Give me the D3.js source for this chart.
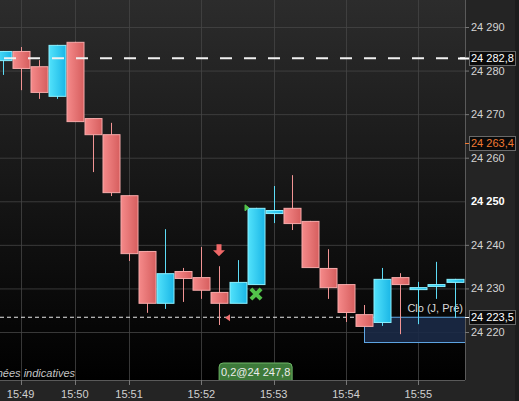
<!DOCTYPE html>
<html><head><meta charset="utf-8">
<script src="https://cdn.jsdelivr.net/npm/d3@7"></script>
<style>html,body{margin:0;padding:0;background:#222;overflow:hidden}svg{display:block}</style>
</head><body>
<script>
// ---- data ----
const opens  = [24282.4,24284.5,24281.0,24274.2,24286.6,24269.1,24265.4,24251.4,24238.6,24226.7,24234.0,24232.6,24229.2,24226.7,24231.0,24247.3,24248.5,24245.5,24234.7,24231.0,24224.1,24222.3,24232.6,24230.3,24231.0,24231.5];
const highs  = [24284.5,24285.4,24282.4,24285.9,24286.6,24269.1,24268.0,24251.4,24238.6,24243.6,24234.7,24239.5,24235.1,24236.5,24248.5,24253.5,24256.0,24245.5,24239.0,24231.0,24226.2,24234.7,24233.5,24231.5,24236.1,24232.2];
const lows   = [24279.0,24275.5,24273.5,24273.5,24268.4,24256.7,24251.2,24236.3,24224.4,24225.3,24226.9,24227.6,24221.6,24226.7,24231.0,24245.0,24243.4,24234.9,24227.6,24222.3,24221.4,24221.4,24219.5,24221.8,24227.6,24223.2];
const closes = [24284.5,24280.6,24275.1,24285.9,24268.4,24265.4,24252.1,24238.1,24226.7,24233.5,24232.4,24229.7,24226.7,24231.5,24248.5,24248.0,24245.0,24234.9,24230.3,24224.6,24221.4,24232.2,24231.0,24230.3,24231.0,24232.2];
const timeTickIdx = [1,4,7,11,15,19,23];
const timeLabels = ["15:49","15:50","15:51","15:52","15:53","15:54","15:55"];
const priceTicks = [24220,24230,24240,24250,24260,24270,24280,24290];
const refLevels = [24282.8, 24263.4, 24223.5];
const prevClose = 24223.5, boxLow = 24217.7;
const tradeLabel = "0,2@24 247,8";
const tradeIdx = 14;
const sellArrowIdx = 12, buyCrossIdx = 14;

const W = 519, H = 401, plotR = 465, plotB = 380;
const svg = d3.select("body").append("svg").attr("width", W).attr("height", H)
  .style("font-family", "'Liberation Sans', Arial, sans-serif");
const defs = svg.append("defs");
const bg = defs.append("linearGradient").attr("id","bg").attr("x1",0).attr("y1",0).attr("x2",0).attr("y2",1);
bg.append("stop").attr("offset","0%").attr("stop-color","#2c2c2c");
bg.append("stop").attr("offset","100%").attr("stop-color","#000");
const gr = defs.append("linearGradient").attr("id","gred");
gr.append("stop").attr("offset","0%").attr("stop-color","#f58a8a");
gr.append("stop").attr("offset","100%").attr("stop-color","#d65e5e");
const gc = defs.append("linearGradient").attr("id","gcyan");
gc.append("stop").attr("offset","0%").attr("stop-color","#52e2fb");
gc.append("stop").attr("offset","100%").attr("stop-color","#1ab6e6");
defs.append("clipPath").attr("id","clip").append("rect").attr("width",plotR).attr("height",plotB);

const x = d3.scaleLinear().domain([0, 25]).range([2.5, 454.5]);
const y = d3.scaleLinear().domain([24220, 24290]).range([332, 27]);
const fmt = v => { const s = (Math.round(v*10)/10).toFixed(v % 1 ? 1 : 0).replace(".", ","); return s.slice(0,2) + " " + s.slice(2); };

svg.append("rect").attr("width",W).attr("height",H).attr("fill","#242424");
svg.append("rect").attr("x",515).attr("width",4).attr("height",H).attr("fill","#1c1c1c");
svg.append("rect").attr("width",plotR).attr("height",plotB).attr("fill","url(#bg)");

const plot = svg.append("g").attr("clip-path","url(#clip)");
// grid
plot.selectAll(".hg").data(priceTicks).join("line")
  .attr("x1",0).attr("x2",plotR).attr("y1",d=>y(d)+0.5).attr("y2",d=>y(d)+0.5)
  .attr("stroke","#454545").attr("stroke-opacity",0.8);
plot.selectAll(".vg").data(timeTickIdx).join("line")
  .attr("x1",d=>Math.round(x(d))+0.5).attr("x2",d=>Math.round(x(d))+0.5).attr("y1",0).attr("y2",plotB)
  .attr("stroke","#454545").attr("stroke-opacity",0.8);

// previous close box
plot.append("rect").attr("x",364.5).attr("y",y(prevClose)+0.5).attr("width",plotR-364).attr("height",y(boxLow)-y(prevClose))
  .attr("fill","#1b2a47").attr("fill-opacity",0.9).attr("stroke","#5fa8e6");
plot.append("line").attr("x1",0).attr("x2",364).attr("y1",y(prevClose)+0.5).attr("y2",y(prevClose)+0.5)
  .attr("stroke","#e8e8e8").attr("stroke-dasharray","4,3");
plot.append("text").attr("x",463).attr("y",y(prevClose)-5).attr("text-anchor","end")
  .attr("fill","#d8d8d8").attr("font-size",11).text("Clo (J, Pré)");

// candles
const data = opens.map((o,i)=>({i,o,h:highs[i],l:lows[i],c:closes[i],up:closes[i]>=opens[i]}));
const dojiUp = new Set([23,24]);
const isUp = d => d.up || dojiUp.has(d.i);
const cg = plot.selectAll(".c").data(data).join("g");
cg.append("line").attr("x1",d=>Math.round(x(d.i))+0.5).attr("x2",d=>Math.round(x(d.i))+0.5)
  .attr("y1",d=>y(d.h)).attr("y2",d=>y(d.l))
  .attr("stroke",d=>isUp(d)?"#5ddcf6":"#f29494").attr("stroke-width",1);
cg.append("rect")
  .attr("x",d=>Math.round(x(d.i))-8).attr("width",17)
  .attr("y",d=>Math.min(y(d.o),y(d.c))+0.5)
  .attr("height",d=>Math.max(2,Math.abs(y(d.o)-y(d.c))))
  .attr("fill",d=>isUp(d)?"url(#gcyan)":"url(#gred)")
  .attr("stroke",d=>isUp(d)?"#8cf0ff":"#f7aaaa").attr("stroke-width",1);

// dashed reference line over candles
plot.append("line").attr("x1",4).attr("x2",plotR).attr("y1",y(refLevels[0])).attr("y2",y(refLevels[0]))
  .attr("stroke","#f0f0f0").attr("stroke-width",2).attr("stroke-dasharray","12,12");

// markers
const ax = Math.round(x(sellArrowIdx)), ay = y(highs[sellArrowIdx]) - 5;
plot.append("path").attr("d",`M${ax-2.5},${ay-17}h5v6h3.5l-6,6l-6,-6h3.5z`).attr("fill","#f06868");
plot.append("path").attr("d",`M${ax+6},${y(prevClose)+1}l5,-3.5v7z`).attr("fill","#f07070");
const bx = Math.round(x(buyCrossIdx)), by = y(opens[buyCrossIdx]) + 10;
plot.append("path").attr("d",d3.symbol(d3.symbolX, 70)()).attr("transform",`translate(${bx},${by})`)
  .attr("fill","none").attr("stroke","#52c24a").attr("stroke-width",4);
plot.append("path").attr("d",`M${bx-11},${y(closes[buyCrossIdx])-3}l4,3l-4,3z`).attr("fill","#52c24a").attr("stroke","#52c24a");

// borders
svg.append("line").attr("x1",0).attr("x2",plotR).attr("y1",plotB+0.5).attr("y2",plotB+0.5).attr("stroke","#5a5a5a");
svg.append("line").attr("x1",plotR+0.5).attr("x2",plotR+0.5).attr("y1",0).attr("y2",plotB).attr("stroke","#5a5a5a");

// y axis
const ya = svg.append("g");
ya.selectAll("line").data(priceTicks.filter(d=>d!==24250)).join("line")
  .attr("x1",plotR).attr("x2",plotR+4).attr("y1",d=>y(d)+0.5).attr("y2",d=>y(d)+0.5).attr("stroke","#777");
ya.selectAll("text").data(priceTicks).join("text")
  .attr("x",471).attr("y",d=>y(d)+4).attr("font-size",11)
  .attr("font-weight",d=>d===24250?"bold":"normal")
  .attr("fill",d=>d===24250?"#ffffff":"#d4d4d4").text(fmt);

// reference labels on axis
const refCol = ["#ffffff","#f07a32","#ffffff"];
refLevels.forEach((v,k)=>{
  const yy = Math.round(y(v));
  svg.append("line").attr("x1",k===0?458:plotR).attr("x2",469).attr("y1",yy+0.5).attr("y2",yy+0.5)
    .attr("stroke",refCol[k]).attr("stroke-width",k===0?2:1);
  svg.append("rect").attr("x",469.5).attr("y",yy-6.5).attr("width",46).attr("height",14)
    .attr("fill","#0a0a0a").attr("stroke","#6a6a6a");
  svg.append("text").attr("x",471).attr("y",yy+4).attr("font-size",11).attr("fill",refCol[k]).text(fmt(v));
});

// x axis
const xa = svg.append("g");
xa.selectAll("line").data(timeTickIdx).join("line")
  .attr("x1",d=>Math.round(x(d))+0.5).attr("x2",d=>Math.round(x(d))+0.5).attr("y1",plotB).attr("y2",plotB+5).attr("stroke","#777");
xa.selectAll("text").data(timeTickIdx).join("text")
  .attr("x",d=>x(d)).attr("y",398).attr("text-anchor","middle").attr("font-size",11).attr("fill","#d0d0d0")
  .text((d,k)=>timeLabels[k]);

// notes
svg.append("text").attr("x",75).attr("y",377).attr("text-anchor","end").attr("font-size",11)
  .attr("font-style","italic").attr("fill","#c4c4c4").text("Données indicatives");
const tx = x(tradeIdx);
svg.append("path").attr("d",`M${tx-36.5},${plotB}V${367}a4,4 0 0 1 4,-4H${tx+32.5}a4,4 0 0 1 4,4V${plotB}`)
  .attr("fill","#3d7a3a").attr("stroke","#70b868");
svg.append("text").attr("x",tx).attr("y",376).attr("text-anchor","middle").attr("font-size",11)
  .attr("fill","#ececec").text(tradeLabel);
</script>
</body></html>
